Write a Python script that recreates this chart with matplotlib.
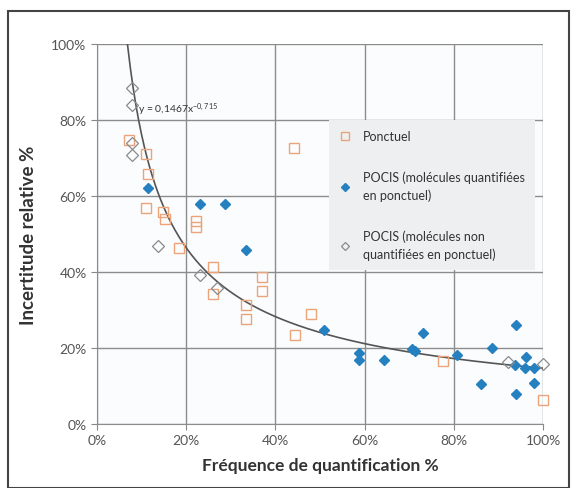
import numpy as np
import matplotlib
matplotlib.use("Agg")
import matplotlib.pyplot as plt
from matplotlib.patches import Rectangle
from matplotlib.ticker import PercentFormatter

plt.rcParams['font.family'] = ['Lato', 'DejaVu Sans']
plt.rcParams['mathtext.default'] = 'regular'

# Ponctuel
ponc_x = [7.1, 11.0, 11.4, 11.0, 14.9, 15.3, 22.3, 22.3, 18.4, 25.9, 25.9,
          33.3, 33.3, 37.0, 37.0, 44.2, 44.4, 48.0, 77.6, 100.0]
ponc_y = [74.8, 71.1, 65.7, 56.8, 55.7, 53.9, 53.3, 51.8, 46.2, 41.4, 34.3,
          31.4, 27.7, 38.8, 35.0, 72.6, 23.4, 28.9, 16.5, 6.2]

# POCIS, molecules quantifiees en ponctuel
pq_x = [11.5, 23.1, 28.6, 33.4, 50.9, 58.8, 58.8, 64.4, 70.6, 71.4, 73.0,
        80.7, 88.5, 86.2, 93.9, 93.8, 93.9, 96.2, 96.0, 98.0, 97.9]
pq_y = [62.0, 57.8, 58.0, 45.9, 24.7, 18.8, 16.9, 16.7, 19.8, 19.1, 24.0,
        18.1, 19.9, 10.6, 26.0, 15.4, 7.9, 17.6, 14.7, 14.7, 10.7]

# POCIS, molecules non quantifiees en ponctuel
pn_x = [7.8, 7.8, 7.8, 7.8, 13.7, 23.1, 26.8, 92.1, 100.0]
pn_y = [88.3, 84.0, 74.0, 70.7, 46.8, 39.1, 35.8, 16.3, 15.7]

# power law fit y = a * x^b (x, y as fractions)
fit_a = 0.1467
fit_b = -0.715

fig = plt.figure(figsize=(5.74, 4.89), dpi=100)
ax = fig.add_axes([0.169, 0.131, 0.777, 0.777])

ax.plot(ponc_x, ponc_y, 's', ms=7.5, mfc='none', mec='#eba47a', mew=1.0,
        label='Ponctuel', zorder=3, clip_on=False)
ax.plot(pq_x, pq_y, 'D', ms=5.5, color='#2580c0', mec='#2580c0',
        label='POCIS (molécules quantifiées\nen ponctuel)', zorder=4, clip_on=False)
ax.plot(pn_x, pn_y, 'D', ms=6.5, mfc='none', mec='#8a8a8a', mew=0.9,
        label='POCIS (molécules non\nquantifiées en ponctuel)', zorder=4, clip_on=False)

x0 = fit_a ** (-1 / fit_b)
xf = np.linspace(x0, 1.0, 300)
ax.plot(xf * 100, fit_a * xf ** fit_b * 100, color='#555555', lw=1.2, zorder=2)
ax.text(9.3, 83, 'y = 0,1467x$^{-0,715}$', fontsize=7.5, color='#333333',
        va='center')

ax.set_xlim(0, 100)
ax.set_ylim(0, 100)
ax.set_xticks(np.arange(0, 101, 20))
ax.set_yticks(np.arange(0, 101, 20))
ax.xaxis.set_major_formatter(PercentFormatter(decimals=0))
ax.yaxis.set_major_formatter(PercentFormatter(decimals=0))
ax.tick_params(labelsize=10, colors='#555555', length=4, color='#888888')
ax.grid(True, color='#8c8c8c', lw=1.0)
ax.set_axisbelow(True)
for s in ['top', 'right']:
    ax.spines[s].set_visible(False)
for s in ['left', 'bottom']:
    ax.spines[s].set_color('#8c8c8c')
ax.set_facecolor('#fbfcfd')

ax.set_xlabel('Fréquence de quantification %', fontsize=12.5,
              fontweight='bold', color='#333333', labelpad=8)
ax.set_ylabel('Incertitude relative %', fontsize=13.5,
              fontweight='bold', color='#333333', labelpad=10)

leg = ax.legend(loc='upper left', bbox_to_anchor=(0.52, 0.80), fontsize=9,
                labelspacing=2.3, handlelength=1.0, handletextpad=0.9,
                borderpad=0.8, borderaxespad=0, frameon=True, fancybox=False,
                markerscale=0.7)
leg.get_frame().set_facecolor('#eeeff1')
leg.get_frame().set_edgecolor('none')
leg.get_frame().set_alpha(1)
for t in leg.get_texts():
    t.set_color('#333333')
    t.set_linespacing(1.5)

fig.patches.append(Rectangle((0.014, 0.0), 0.977, 0.975, transform=fig.transFigure,
                             fill=False, edgecolor='#444444', lw=1.5))

fig.savefig('out.png', dpi=100)
